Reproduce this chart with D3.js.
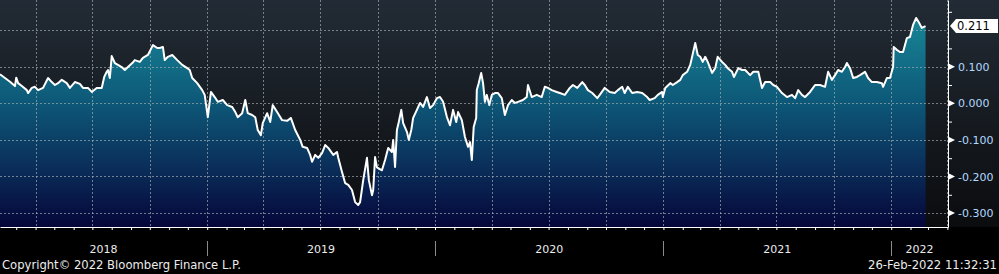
<!DOCTYPE html>
<html>
<head>
<meta charset="utf-8">
<script src="https://cdn.jsdelivr.net/npm/d3@7"></script>
<style>
  html, body { margin: 0; padding: 0; background: #000; }
  svg { display: block; }
  text { font-family: "DejaVu Sans", sans-serif; font-size: 11px; }
</style>
</head>
<body>
<svg id="vis-svg"></svg>
<script>
// series: [date, value]
const series = [
  ["2018-02-03",0.079],["2018-02-11",0.069],["2018-02-19",0.059],["2018-02-27",0.047],["2018-03-01",0.070],
  ["2018-03-04",0.055],["2018-03-10",0.047],["2018-03-18",0.036],["2018-03-20",0.028],["2018-03-26",0.042],
  ["2018-03-31",0.045],["2018-04-05",0.036],["2018-04-13",0.042],["2018-04-21",0.069],["2018-04-27",0.058],
  ["2018-05-02",0.050],["2018-05-07",0.055],["2018-05-13",0.064],["2018-05-21",0.055],["2018-05-26",0.042],
  ["2018-06-03",0.058],["2018-06-11",0.053],["2018-06-16",0.042],["2018-06-24",0.042],["2018-06-30",0.031],
  ["2018-07-08",0.042],["2018-07-16",0.042],["2018-07-20",0.072],["2018-07-24",0.086],["2018-07-26",0.091],
  ["2018-07-29",0.069],["2018-08-01",0.129],["2018-08-06",0.110],["2018-08-11",0.105],["2018-08-17",0.099],
  ["2018-08-22",0.091],["2018-08-27",0.099],["2018-09-03",0.110],["2018-09-07",0.118],["2018-09-15",0.113],
  ["2018-09-20",0.124],["2018-09-28",0.132],["2018-10-06",0.159],["2018-10-13",0.151],["2018-10-17",0.151],
  ["2018-10-22",0.154],["2018-10-25",0.118],["2018-10-30",0.127],["2018-11-06",0.132],["2018-11-14",0.118],
  ["2018-11-22",0.105],["2018-11-30",0.096],["2018-12-04",0.091],["2018-12-08",0.069],["2018-12-16",0.055],
  ["2018-12-24",0.036],["2018-12-28",0.023],
  ["2019-01-02",-0.038],["2019-01-07",0.031],["2019-01-13",0.017],["2019-01-18",0.004],["2019-01-26",0.009],
  ["2019-02-02",-0.005],["2019-02-10",-0.010],["2019-02-15",-0.024],["2019-02-19",-0.038],["2019-02-26",-0.027],
  ["2019-03-03",0.009],["2019-03-07",-0.027],["2019-03-14",-0.032],["2019-03-19",-0.038],["2019-03-23",-0.073],
  ["2019-03-28",-0.087],["2019-03-31",-0.054],["2019-04-07",-0.027],["2019-04-12",-0.051],["2019-04-16",-0.005],
  ["2019-04-23",-0.024],["2019-05-01",-0.046],["2019-05-09",-0.048],["2019-05-15",-0.040],["2019-05-22",-0.073],
  ["2019-05-30",-0.100],["2019-06-03",-0.119],["2019-06-10",-0.122],["2019-06-15",-0.141],["2019-06-18",-0.160],
  ["2019-06-23",-0.141],["2019-06-28",-0.149],["2019-07-04",-0.136],["2019-07-09",-0.114],["2019-07-14",-0.122],
  ["2019-07-22",-0.141],["2019-07-28",-0.133],["2019-07-30",-0.149],["2019-08-05",-0.188],["2019-08-10",-0.218],
  ["2019-08-15",-0.223],["2019-08-21",-0.237],["2019-08-26",-0.270],["2019-08-31",-0.278],["2019-09-03",-0.270],
  ["2019-09-08",-0.210],["2019-09-14",-0.149],["2019-09-17",-0.210],["2019-09-22",-0.251],["2019-09-24",-0.237],
  ["2019-09-27",-0.147],["2019-09-30",-0.175],["2019-10-08",-0.183],["2019-10-13",-0.155],["2019-10-18",-0.122],
  ["2019-10-24",-0.133],["2019-10-26",-0.100],["2019-10-29",-0.174],["2019-11-01",-0.073],["2019-11-04",-0.051],
  ["2019-11-08",-0.018],["2019-11-11",-0.054],["2019-11-17",-0.078],["2019-11-20",-0.100],["2019-11-24",-0.073],
  ["2019-11-27",-0.040],["2019-12-03",-0.018],["2019-12-08",0.001],["2019-12-13",-0.010],["2019-12-19",0.017],
  ["2019-12-24",-0.013],["2019-12-29",-0.005],
  ["2020-01-04",0.014],["2020-01-09",0.017],["2020-01-14",0.004],["2020-01-20",-0.037],["2020-01-25",-0.060],
  ["2020-01-30",-0.018],["2020-02-04",-0.051],["2020-02-07",-0.024],["2020-02-13",-0.046],["2020-02-18",-0.092],
  ["2020-02-23",-0.119],["2020-02-26",-0.106],["2020-02-29",-0.155],["2020-03-03",-0.065],["2020-03-07",-0.040],
  ["2020-03-08",0.036],["2020-03-11",0.055],["2020-03-15",0.083],["2020-03-18",0.055],["2020-03-21",0.004],
  ["2020-03-24",0.023],["2020-03-28",-0.005],["2020-04-01",0.023],["2020-04-06",0.028],["2020-04-11",0.028],
  ["2020-04-17",0.014],["2020-04-22",-0.032],["2020-04-27",-0.005],["2020-05-03",0.009],["2020-05-08",0.001],
  ["2020-05-13",0.004],["2020-05-21",0.009],["2020-05-27",0.017],["2020-05-29",0.050],["2020-06-04",0.017],
  ["2020-06-12",0.023],["2020-06-20",0.017],["2020-06-25",0.045],["2020-06-30",0.042],["2020-07-06",0.036],
  ["2020-07-14",0.031],["2020-07-19",0.028],["2020-07-27",0.023],["2020-08-04",0.042],["2020-08-09",0.050],
  ["2020-08-16",0.042],["2020-08-24",0.058],["2020-08-28",0.050],["2020-09-02",0.036],["2020-09-09",0.028],
  ["2020-09-17",0.014],["2020-09-21",0.023],["2020-09-29",0.042],["2020-10-07",0.031],["2020-10-15",0.028],
  ["2020-10-20",0.036],["2020-10-27",0.045],["2020-10-31",0.028],["2020-11-05",0.045],["2020-11-12",0.028],
  ["2020-11-20",0.031],["2020-11-28",0.028],["2020-12-06",0.017],["2020-12-10",0.009],["2020-12-18",0.014],
  ["2020-12-23",0.023],["2020-12-30",0.031],["2020-12-31",0.017],
  ["2021-01-04",0.042],["2021-01-12",0.055],["2021-01-16",0.050],["2021-01-23",0.058],["2021-01-28",0.064],
  ["2021-02-01",0.077],["2021-02-08",0.086],["2021-02-13",0.105],["2021-02-16",0.127],["2021-02-21",0.165],
  ["2021-02-25",0.132],["2021-03-01",0.127],["2021-03-05",0.113],["2021-03-09",0.127],["2021-03-13",0.113],
  ["2021-03-20",0.083],["2021-03-25",0.096],["2021-03-29",0.127],["2021-04-05",0.113],["2021-04-10",0.105],
  ["2021-04-14",0.096],["2021-04-21",0.086],["2021-04-24",0.072],["2021-05-01",0.096],["2021-05-07",0.091],
  ["2021-05-12",0.091],["2021-05-20",0.077],["2021-05-25",0.086],["2021-06-02",0.086],["2021-06-08",0.042],
  ["2021-06-13",0.058],["2021-06-21",0.058],["2021-06-26",0.050],["2021-07-02",0.045],["2021-07-10",0.028],
  ["2021-07-18",0.017],["2021-07-26",0.023],["2021-07-31",0.014],["2021-08-05",0.036],["2021-08-11",0.023],
  ["2021-08-16",0.017],["2021-08-24",0.031],["2021-09-01",0.050],["2021-09-09",0.050],["2021-09-17",0.045],
  ["2021-09-22",0.086],["2021-09-28",0.064],["2021-10-03",0.077],["2021-10-08",0.091],["2021-10-14",0.086],
  ["2021-10-19",0.099],["2021-10-22",0.110],["2021-10-27",0.096],["2021-11-01",0.069],["2021-11-07",0.072],
  ["2021-11-12",0.077],["2021-11-20",0.086],["2021-11-25",0.069],["2021-12-01",0.058],["2021-12-09",0.058],
  ["2021-12-17",0.055],["2021-12-19",0.045],["2021-12-25",0.069],["2021-12-30",0.069],
  ["2022-01-04",0.099],["2022-01-05",0.154],["2022-01-10",0.146],["2022-01-15",0.140],["2022-01-20",0.140],
  ["2022-01-26",0.178],["2022-01-31",0.181],["2022-02-05",0.214],["2022-02-10",0.233],["2022-02-14",0.222],
  ["2022-02-19",0.206],["2022-02-25",0.211]
];

const xStart = "2018-02-03", xEnd = "2022-04-02";
const yGrid = [0.2, 0.1, 0, -0.1, -0.2, -0.3];
const yLabels = [0.1, 0, -0.1, -0.2, -0.3];
const yMinor = [0.25, 0.15, 0.05, -0.05, -0.15, -0.25];
const yearLabels = ["2018", "2019", "2020", "2021", "2022"];
const copyrightText = "Copyright\u00A9 2022 Bloomberg Finance L.P.";
const stampText = "26-Feb-2022 11:32:31";

const width = 999, height = 274, plotW = 948, plotH = 227;

const parseDate = d3.timeParse("%Y-%m-%d");
const data = series.map(d => ({date: parseDate(d[0]), value: d[1]}));
const fmt = d => d3.format(".3f")(d).replace("\u2212", "-");

const x = d3.scaleTime().domain([parseDate(xStart), parseDate(xEnd)]).range([0, plotW]);
const y = d3.scaleLinear().domain([-0.338, 0.2822]).range([plotH, 0]);

const svg = d3.select("#vis-svg").attr("width", width).attr("height", height);
const defs = svg.append("defs");

const bg = defs.append("linearGradient").attr("id", "bg")
    .attr("x1", 0).attr("y1", 0).attr("x2", 0).attr("y2", 1);
bg.append("stop").attr("offset", "0%").attr("stop-color", "#222b35");
bg.append("stop").attr("offset", "100%").attr("stop-color", "#0b0c0e");

const fillGrad = defs.append("linearGradient").attr("id", "fillGrad")
    .attr("gradientUnits", "userSpaceOnUse")
    .attr("x1", 0).attr("y1", 0).attr("x2", 0).attr("y2", plotH);
fillGrad.append("stop").attr("offset", "0%").attr("stop-color", "#1a8f9c");
fillGrad.append("stop").attr("offset", "45%").attr("stop-color", "#0d5878");
fillGrad.append("stop").attr("offset", "75%").attr("stop-color", "#0a2c58");
fillGrad.append("stop").attr("offset", "100%").attr("stop-color", "#05063a");

svg.append("rect").attr("width", width).attr("height", height).attr("fill", "#000");
svg.append("rect").attr("width", width).attr("height", plotH).attr("fill", "url(#bg)");

// area under the line
svg.append("path")
    .datum(data)
    .attr("fill", "url(#fillGrad)")
    .attr("d", d3.area().x(d => x(d.date)).y0(plotH).y1(d => y(d.value)));

// dashed grid
const grid = svg.append("g")
    .attr("stroke", "#a9b0b5").attr("stroke-opacity", 0.65)
    .attr("stroke-dasharray", "2,2").attr("stroke-width", 1);
grid.selectAll(".hg").data(yGrid).enter().append("line")
    .attr("x1", 0).attr("x2", plotW)
    .attr("y1", d => Math.round(y(d)) + 0.5).attr("y2", d => Math.round(y(d)) + 0.5);
grid.selectAll(".vg").data(x.ticks(d3.timeMonth.every(3))).enter().append("line")
    .attr("y1", 0).attr("y2", plotH)
    .attr("x1", d => Math.round(x(d)) + 0.5).attr("x2", d => Math.round(x(d)) + 0.5);

// the line
svg.append("path")
    .datum(data)
    .attr("fill", "none")
    .attr("stroke", "#fff")
    .attr("stroke-width", 2)
    .attr("stroke-linejoin", "round")
    .attr("d", d3.line().x(d => x(d.date)).y(d => y(d.value)));

// right axis
const yAxis = svg.append("g")
    .attr("transform", "translate(" + plotW + ",0)")
    .call(d3.axisRight(y).tickValues(yLabels).tickSize(0).tickSizeOuter(0).tickPadding(10).tickFormat(fmt));
yAxis.select(".domain").attr("stroke", "#fff");
yAxis.selectAll("text").attr("fill", "#b3d9ff").style("font-size", "11px")
    .style("font-family", "DejaVu Sans, sans-serif");

svg.append("g")
    .attr("transform", "translate(" + plotW + ",0)")
    .call(d3.axisRight(y).tickValues(yMinor).tickSize(4).tickSizeOuter(0).tickFormat(""))
    .call(g => g.select(".domain").remove())
    .selectAll("line").attr("stroke", "#fff");

// triangle markers at labelled ticks
svg.selectAll(".tri").data(yLabels).enter().append("path")
    .attr("fill", "#fff")
    .attr("d", d => {
        const ty = y(d);
        return "M" + plotW + "," + (ty - 3.5) + "L" + (plotW + 7) + "," + ty + "L" + plotW + "," + (ty + 3.5) + "Z";
    });

// last value tag
const last = data[data.length - 1];
const ly = y(last.value);
svg.append("path")
    .attr("fill", "#fff")
    .attr("d", "M" + (plotW + 2) + "," + ly + "L" + (plotW + 8) + "," + (ly - 7) + "L998," + (ly - 7) +
               "L998," + (ly + 7) + "L" + (plotW + 8) + "," + (ly + 7) + "Z");
svg.append("text")
    .attr("x", plotW + 9).attr("y", ly + 4)
    .attr("fill", "#000")
    .style("font-size", "11.5px")
    .text(fmt(last.value));

// bottom axis with monthly ticks
const xAxis = svg.append("g")
    .attr("transform", "translate(0," + plotH + ")")
    .call(d3.axisBottom(x).ticks(d3.timeMonth.every(1)).tickSize(3).tickSizeOuter(0).tickFormat(""));
xAxis.select(".domain").attr("stroke", "#fff");
xAxis.selectAll("line").attr("stroke", "#fff");

// year separators and labels
const yearStart = d => new Date(+d, 0, 1);
const seps = yearLabels.map(yearStart).filter(d => x(d) > 0 && x(d) < plotW);
svg.selectAll(".sep").data(seps).enter().append("line")
    .attr("x1", d => Math.round(x(d)) + 0.5).attr("x2", d => Math.round(x(d)) + 0.5)
    .attr("y1", 241).attr("y2", 256)
    .attr("stroke", "#8a8a8a");

svg.selectAll(".yr").data(yearLabels).enter().append("text")
    .attr("x", d => {
        const a = Math.max(0, x(yearStart(d)));
        const b = Math.min(plotW, x(yearStart(+d + 1)));
        return (a + b) / 2;
    })
    .attr("y", 253)
    .attr("text-anchor", "middle")
    .attr("fill", "#ececec")
    .text(d => d);

// footer
svg.append("text").attr("x", 2).attr("y", 269).attr("fill", "#ececec")
    .style("font-size", "11.6px").text(copyrightText);
svg.append("text").attr("x", 997).attr("y", 269).attr("text-anchor", "end").attr("fill", "#ececec")
    .style("font-size", "11.6px").text(stampText);
</script>
</body>
</html>
